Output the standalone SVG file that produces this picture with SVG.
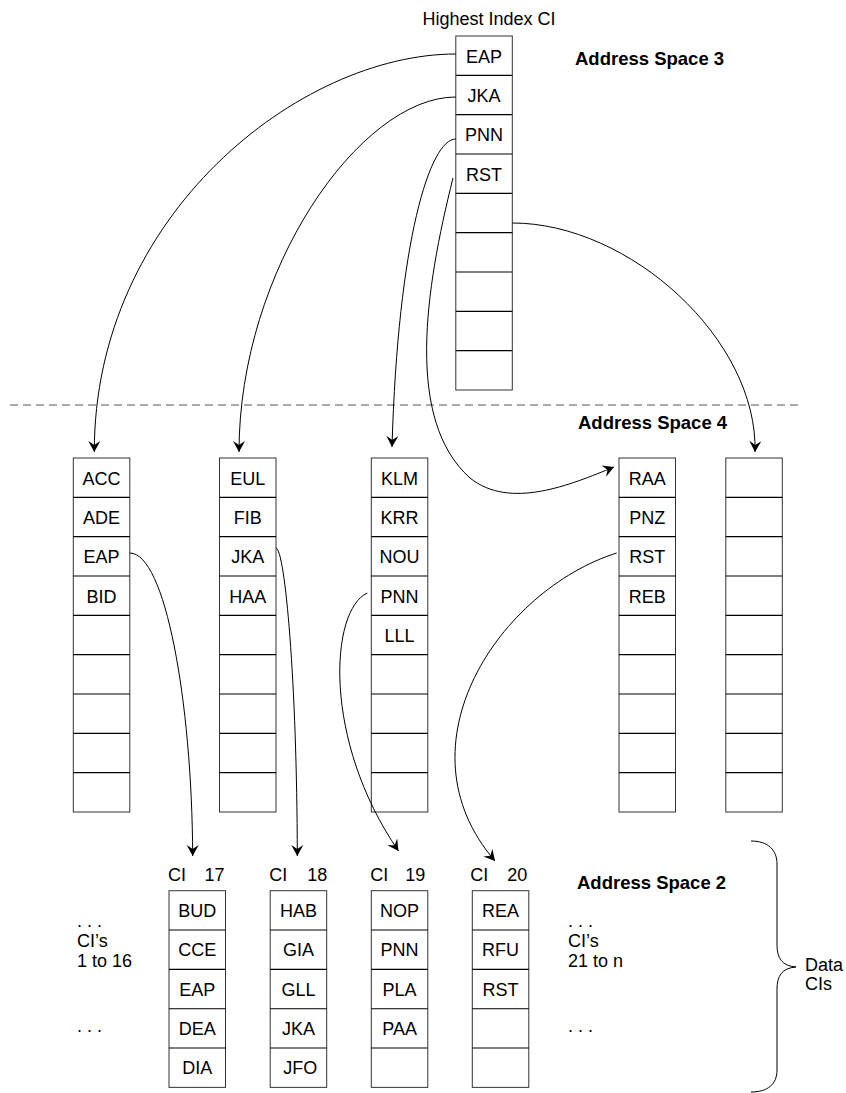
<svg xmlns="http://www.w3.org/2000/svg" width="846" height="1093" viewBox="0 0 846 1093">
<style>
text{font-family:"Liberation Sans",Arial,sans-serif;font-size:18px;fill:#000}
.c{text-anchor:middle}
.b{font-weight:bold;font-size:18.5px}
.box{fill:#fff;stroke:#333;stroke-width:1}
.ln{stroke:#000;stroke-width:1.1}
.conn path{fill:none;stroke:#000;stroke-width:1}
</style>
<defs>
<marker id="ah" markerUnits="userSpaceOnUse" markerWidth="14" markerHeight="14" viewBox="-12 -7 14 14" refX="0" refY="0" orient="auto">
<path d="M0,0 L-11,-6 L-7,0 L-11,6 Z" fill="#000"/>
</marker>
<g id="rows9">
<rect class="box" x="0" y="0" width="56.5" height="354"/>
<path class="ln" d="M0,39.33H56.5M0,78.67H56.5M0,118H56.5M0,157.33H56.5M0,196.67H56.5M0,236H56.5M0,275.33H56.5M0,314.67H56.5"/>
</g>
<g id="rows5">
<rect class="box" x="0" y="0" width="56.5" height="196.67"/>
<path class="ln" d="M0,39.33H56.5M0,78.67H56.5M0,118H56.5M0,157.33H56.5"/>
</g>
</defs>
<rect width="846" height="1093" fill="#fff"/>

<text x="489" y="25" class="c">Highest Index CI</text>
<text x="575" y="65" class="b">Address Space 3</text>
<line x1="10" y1="405" x2="801" y2="405" stroke="#555" stroke-width="1" stroke-dasharray="8,5"/>
<text x="578" y="429" class="b">Address Space 4</text>
<text x="577" y="889" class="b">Address Space 2</text>

<g id="top-ci" transform="translate(455.8,36)">
<use href="#rows9"/>
<text x="28.25" y="26.5" class="c">EAP</text>
<text x="28.25" y="65.8" class="c">JKA</text>
<text x="28.25" y="105.2" class="c">PNN</text>
<text x="28.25" y="144.5" class="c">RST</text>
</g>

<g id="col-a" transform="translate(73.3,458)">
<use href="#rows9"/>
<text x="28.25" y="26.5" class="c">ACC</text>
<text x="28.25" y="65.8" class="c">ADE</text>
<text x="28.25" y="105.2" class="c">EAP</text>
<text x="28.25" y="144.5" class="c">BID</text>
</g>
<g id="col-b" transform="translate(219.5,458)">
<use href="#rows9"/>
<text x="28.25" y="26.5" class="c">EUL</text>
<text x="28.25" y="65.8" class="c">FIB</text>
<text x="28.25" y="105.2" class="c">JKA</text>
<text x="28.25" y="144.5" class="c">HAA</text>
</g>
<g id="col-c" transform="translate(371.3,458)">
<use href="#rows9"/>
<text x="28.25" y="26.5" class="c">KLM</text>
<text x="28.25" y="65.8" class="c">KRR</text>
<text x="28.25" y="105.2" class="c">NOU</text>
<text x="28.25" y="144.5" class="c">PNN</text>
<text x="28.25" y="183.8" class="c">LLL</text>
</g>
<g id="col-d" transform="translate(619,458)">
<use href="#rows9"/>
<text x="28.25" y="26.5" class="c">RAA</text>
<text x="28.25" y="65.8" class="c">PNZ</text>
<text x="28.25" y="105.2" class="c">RST</text>
<text x="28.25" y="144.5" class="c">REB</text>
</g>
<g id="col-e" transform="translate(725.8,458)">
<use href="#rows9"/>
</g>

<g id="ci17" transform="translate(169,890.7)">
<use href="#rows5"/>
<text x="-1" y="-10">CI</text>
<text x="55.5" y="-10" text-anchor="end">17</text>
<text x="28.25" y="26.5" class="c">BUD</text>
<text x="28.25" y="65.8" class="c">CCE</text>
<text x="28.25" y="105.2" class="c">EAP</text>
<text x="28.25" y="144.5" class="c">DEA</text>
<text x="28.25" y="183.8" class="c">DIA</text>
</g>
<g id="ci18" transform="translate(270.2,890.7)">
<use href="#rows5"/>
<text x="-1" y="-10">CI</text>
<text x="57" y="-10" text-anchor="end">18</text>
<text x="28.25" y="26.5" class="c">HAB</text>
<text x="28.25" y="65.8" class="c">GIA</text>
<text x="28.25" y="105.2" class="c">GLL</text>
<text x="28.25" y="144.5" class="c">JKA</text>
<text x="30" y="183.8" class="c">JFO</text>
</g>
<g id="ci19" transform="translate(371.3,890.7)">
<use href="#rows5"/>
<text x="-1" y="-10">CI</text>
<text x="54" y="-10" text-anchor="end">19</text>
<text x="28.25" y="26.5" class="c">NOP</text>
<text x="28.25" y="65.8" class="c">PNN</text>
<text x="28.25" y="105.2" class="c">PLA</text>
<text x="28.25" y="144.5" class="c">PAA</text>
</g>
<g id="ci20" transform="translate(472.3,890.7)">
<use href="#rows5"/>
<text x="-2" y="-10">CI</text>
<text x="55" y="-10" text-anchor="end">20</text>
<text x="28.25" y="26.5" class="c">REA</text>
<text x="28.25" y="65.8" class="c">RFU</text>
<text x="28.25" y="105.2" class="c">RST</text>
</g>

<g id="left-note">
<text x="77" y="927">. . .</text>
<text x="77" y="947">CI’s</text>
<text x="77" y="967">1 to 16</text>
<text x="77" y="1032">. . .</text>
</g>
<g id="right-note">
<text x="568" y="927">. . .</text>
<text x="568" y="947">CI’s</text>
<text x="568" y="967">21 to n</text>
<text x="568" y="1032">. . .</text>
</g>
<g id="data-cis">
<path d="M751,841 C768,841 777,850 777,864 L777,945 C777,958 782,966 796,967 C782,968 777,976 777,989 L777,1070 C777,1084 768,1092 751,1092" fill="none" stroke="#000" stroke-width="1"/>
<text x="805" y="971">Data</text>
<text x="805" y="990">CIs</text>
</g>

<g id="connectors" class="conn">
<path d="M455.8,54 C300,54 94,215 94.3,452" marker-end="url(#ah)"/>
<path d="M455.8,97 C360,97 239,270 239,452" marker-end="url(#ah)"/>
<path d="M455.8,139 C430,139 398,240 392,447" marker-end="url(#ah)"/>
<path d="M453,178 C425,290 405,420 470,478 C510,510 570,485 614,467" marker-end="url(#ah)"/>
<path d="M512.3,223 C630,223 758,340 755,452" marker-end="url(#ah)"/>
<path d="M129.8,553 C165,553 192,700 192.7,856" marker-end="url(#ah)"/>
<path d="M276,548 C285,550 297,680 297.3,856" marker-end="url(#ah)"/>
<path d="M367.3,593 C330,610 322,740 398.5,851" marker-end="url(#ah)"/>
<path d="M616.7,553 C500,590 395,745 495,861" marker-end="url(#ah)"/>
</g>
</svg>
